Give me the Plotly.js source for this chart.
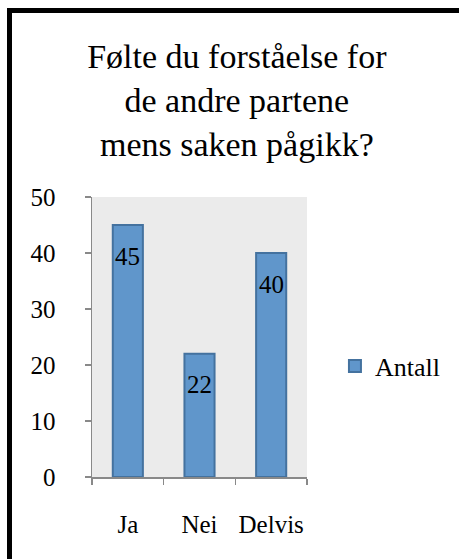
<!DOCTYPE html>
<html>
<head>
<meta charset="utf-8">
<script src="https://cdn.plot.ly/plotly-3.0.1.min.js"></script>
<style>
html,body{margin:0;padding:0;background:#fff;overflow:hidden;}
#chart{position:absolute;left:0;top:0;width:459px;height:559px;}
#frame{position:absolute;left:7px;top:8px;width:600px;height:700px;border-top:5px solid #000;border-left:5px solid #000;pointer-events:none;}
</style>
</head>
<body>
<div id="chart"></div>
<div id="frame"></div>
<script>
const categories = ["Ja", "Nei", "Delvis"];
const antall = [45, 22, 40];
const yTicks = [0, 10, 20, 30, 40, 50];
const seriesName = "Antall";
const titleText = "Følte du forståelse for<br>de andre partene<br>mens saken pågikk?";

const FONT = "'Liberation Serif', 'Times New Roman', serif";

const trace = {
  type: "bar",
  x: categories,
  y: antall,
  name: seriesName,
  marker: {color: "#6096cb", line: {color: "#44729f", width: 2}},
  hoverinfo: "none"
};

const annotations = categories.map((c, i) => ({
  x: c, y: antall[i], xref: "x", yref: "y",
  text: String(antall[i]), showarrow: false,
  yshift: -31, font: {family: FONT, size: 25, color: "#000"}
}));

const layout = {
  width: 459, height: 559,
  margin: {l: 92, r: 152, t: 197, b: 82},
  paper_bgcolor: "#ffffff",
  plot_bgcolor: "#ebebeb",
  font: {family: FONT, size: 25, color: "#000"},
  title: {
    text: titleText,
    font: {family: FONT, size: 34, color: "#000"},
    xref: "container", x: 0.516, xanchor: "center",
    yref: "container", y: 1 - 68/559, yanchor: "top"
  },
  bargap: 0.58,
  showlegend: true,
  legend: {
    x: 1.13, xanchor: "left", y: 0.396, yanchor: "middle",
    font: {family: FONT, size: 26, color: "#000"},
    bgcolor: "rgba(0,0,0,0)", itemwidth: 30
  },
  xaxis: {
    type: "category",
    showline: true, linecolor: "#898989", linewidth: 1.5,
    ticks: "outside", tickson: "boundaries", ticklen: 6, tickcolor: "#898989", tickwidth: 1.5,
    ticklabelstandoff: 24, tickangle: 0,
    showgrid: false, zeroline: false,
    tickfont: {family: FONT, size: 25, color: "#000"},
    fixedrange: true
  },
  yaxis: {
    range: [0, 50],
    tickvals: yTicks,
    showline: true, linecolor: "#898989", linewidth: 1.5,
    ticks: "outside", ticklen: 6, tickcolor: "#898989", tickwidth: 1.5,
    ticklabelstandoff: 24,
    showgrid: false, zeroline: false,
    tickfont: {family: FONT, size: 25, color: "#000"},
    fixedrange: true
  },
  annotations: annotations
};

Plotly.newPlot("chart", [trace], layout, {displayModeBar: false, staticPlot: true});
</script>
</body>
</html>
